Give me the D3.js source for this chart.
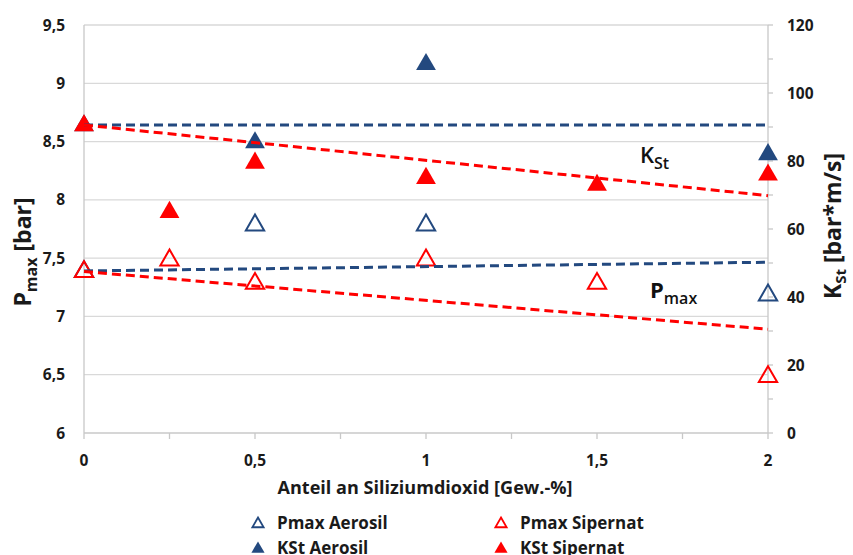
<!DOCTYPE html>
<html><head><meta charset="utf-8">
<script src="https://cdn.jsdelivr.net/npm/d3@7"></script>
<style>body{margin:0;background:#fff}text{font-family:"Open Sans",Lato,sans-serif}</style>
</head><body>
<svg id="c" width="853" height="555"></svg>
<script>
const xTicks = [0, 0.5, 1, 1.5, 2];
const xMinor = [0, 0.25, 0.5, 0.75, 1, 1.25, 1.5, 1.75, 2];
const pTicks = [6, 6.5, 7, 7.5, 8, 8.5, 9, 9.5];
const kTicks = [0, 20, 40, 60, 80, 100, 120];
const kMinor = [0,10,20,30,40,50,60,70,80,90,100,110,120];

const pmaxAerosilX = [0, 0.5, 1, 2];
const pmaxAerosil  = [7.4, 7.8, 7.8, 7.2];
const pmaxSipernatX = [0, 0.25, 0.5, 1, 1.5, 2];
const pmaxSipernat  = [7.4, 7.5, 7.3, 7.5, 7.3, 6.5];
const kstAerosilX = [0, 0.5, 1, 2];
const kstAerosil  = [91, 86, 109, 82.5];
const kstSipernatX = [0, 0.25, 0.5, 1, 1.5, 2];
const kstSipernat  = [91, 65.5, 80, 75.5, 73.5, 76.5];

// trend lines (endpoints at x=0 and x=2)
const trendX = [0, 2];
const trendPmaxAerosil = [7.39, 7.465];
const trendPmaxSipernat = [7.385, 6.89];
const trendKstAerosil = [90.6, 90.6];
const trendKstSipernat = [90.6, 69.8];

const blue = "#23497f", red = "#ff0000", ink = "#1a1a1a";
const svg = d3.select("#c");
const L = 84, R = 768, T = 25, B = 433;
const x = d3.scaleLinear().domain([0, 2]).range([L, R]);
const yP = d3.scaleLinear().domain([6, 9.5]).range([B, T]);
const yK = d3.scaleLinear().domain([0, 120]).range([B, T]);

// gridlines
svg.append("g").selectAll("line").data(pTicks.slice(1)).join("line")
  .attr("x1", L).attr("x2", R).attr("y1", d => yP(d)).attr("y2", d => yP(d))
  .attr("stroke", "#d9d9d9").attr("stroke-width", 1.3);

// axes lines
const axisCol = "#c8c8c8";
svg.append("line").attr("x1", L).attr("x2", L).attr("y1", T).attr("y2", B).attr("stroke", axisCol).attr("stroke-width", 1.3);
svg.append("line").attr("x1", R).attr("x2", R).attr("y1", T).attr("y2", B).attr("stroke", axisCol).attr("stroke-width", 1.3);
svg.append("line").attr("x1", L).attr("x2", R).attr("y1", B).attr("y2", B).attr("stroke", axisCol).attr("stroke-width", 1.3);
svg.append("g").selectAll("line").data(xMinor).join("line")
  .attr("x1", d => x(d)).attr("x2", d => x(d)).attr("y1", B).attr("y2", B + 6)
  .attr("stroke", axisCol).attr("stroke-width", 1.3);
svg.append("g").selectAll("line").data(kMinor).join("line")
  .attr("x1", R).attr("x2", R + 5).attr("y1", d => yK(d)).attr("y2", d => yK(d))
  .attr("stroke", axisCol).attr("stroke-width", 1.3);

const fmt = d => String(d).replace(".", ",");
const tickFont = 15.5;
svg.append("g").selectAll("text").data(pTicks).join("text")
  .attr("x", 65).attr("y", d => yP(d)).attr("dy", "0.36em").attr("text-anchor", "end")
  .attr("font-size", tickFont).attr("font-weight", "bold").attr("fill", ink).text(fmt);
svg.append("g").selectAll("text").data(kTicks).join("text")
  .attr("x", 787).attr("y", d => yK(d)).attr("dy", "0.36em").attr("text-anchor", "start")
  .attr("font-size", tickFont).attr("font-weight", "bold").attr("fill", ink).text(fmt);
svg.append("g").selectAll("text").data(xTicks).join("text")
  .attr("x", d => x(d)).attr("y", 460).attr("dy", "0.36em").attr("text-anchor", "middle")
  .attr("font-size", tickFont).attr("font-weight", "bold").attr("fill", ink).text(fmt);

svg.append("text").attr("x", 425).attr("y", 488).attr("dy", "0.36em").attr("text-anchor", "middle")
  .attr("font-size", 17).attr("font-weight", "bold").attr("fill", ink)
  .attr("textLength", 295).attr("lengthAdjust", "spacingAndGlyphs")
  .text("Anteil an Siliziumdioxid [Gew.-%]");

// axis titles
const lt = svg.append("text").attr("transform", "translate(31,252) rotate(-90)").attr("text-anchor", "middle")
  .attr("font-size", 23).attr("font-weight", "bold").attr("fill", ink);
lt.append("tspan").text("P");
lt.append("tspan").attr("font-size", 16).attr("dy", 6).text("max");
lt.append("tspan").attr("dy", -6).text(" [bar]");
const rt = svg.append("text").attr("transform", "translate(841,226) rotate(-90)").attr("text-anchor", "middle")
  .attr("font-size", 23).attr("font-weight", "bold").attr("fill", ink);
rt.append("tspan").text("K");
rt.append("tspan").attr("font-size", 15).attr("dy", 5).text("St");
rt.append("tspan").attr("dy", -5).text(" [bar*m/s]");

// annotations
const a1 = svg.append("text").attr("x", 640).attr("y", 163).attr("font-size", 22).attr("font-weight", 600).attr("fill", "#111");
a1.append("tspan").text("K");
a1.append("tspan").attr("font-size", 16).attr("dy", 6).text("St");
const a2 = svg.append("text").attr("x", 650).attr("y", 298).attr("font-size", 22).attr("font-weight", "bold").attr("fill", "#111");
a2.append("tspan").text("P");
a2.append("tspan").attr("font-size", 16).attr("dy", 6).attr("font-weight", 600).text("max");

// triangle symbol
const tri = s => d3.symbol().type(d3.symbolTriangle).size(s)();
function markers(xs, ys, yScale, color, filled, size) {
  svg.append("g").selectAll("path").data(xs.map((d, i) => [d, ys[i]])).join("path")
    .attr("d", tri(size))
    .attr("transform", d => `translate(${x(d[0])},${yScale(d[1]) + 2})`)
    .attr("fill", filled ? color : "none").attr("stroke", color).attr("stroke-width", filled ? 0 : 2);
}
markers(pmaxAerosilX, pmaxAerosil, yP, blue, false, 145);
markers(pmaxSipernatX, pmaxSipernat, yP, red, false, 145);
markers(kstAerosilX, kstAerosil, yK, blue, true, 170);
markers(kstSipernatX, kstSipernat, yK, red, true, 170);

// trendlines
function trend(ys, yScale, color) {
  svg.append("line").attr("x1", x(trendX[0])).attr("x2", x(trendX[1]))
    .attr("y1", yScale(ys[0])).attr("y2", yScale(ys[1]))
    .attr("stroke", color).attr("stroke-width", 3).attr("stroke-dasharray", "9,5");
}
trend(trendKstAerosil, yK, blue);
trend(trendKstSipernat, yK, red);
trend(trendPmaxAerosil, yP, blue);
trend(trendPmaxSipernat, yP, red);

// legend
const leg = [
  {name: "Pmax Aerosil", c: blue, f: false, lx: 258, ly: 523},
  {name: "Pmax Sipernat", c: red, f: false, lx: 501, ly: 523},
  {name: "KSt Aerosil", c: blue, f: true, lx: 258, ly: 548},
  {name: "KSt Sipernat", c: red, f: true, lx: 501, ly: 548}
];
const lg = svg.append("g").selectAll("g").data(leg).join("g");
lg.append("path").attr("d", d => tri(d.f ? 75 : 55))
  .attr("transform", d => `translate(${d.lx},${d.ly + 1})`)
  .attr("fill", d => d.f ? d.c : "none").attr("stroke", d => d.c).attr("stroke-width", d => d.f ? 0 : 1.8);
lg.append("text").attr("x", d => d.lx + 19).attr("y", d => d.ly).attr("dy", "0.36em")
  .attr("font-size", 17).attr("font-weight", "bold").attr("fill", ink).text(d => d.name);
</script>
</body></html>
